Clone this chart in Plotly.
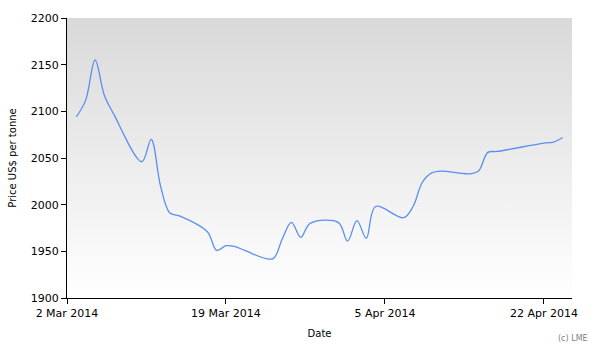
import plotly.graph_objects as go

dates = ["2014-03-03","2014-03-04","2014-03-05","2014-03-06","2014-03-07",
         "2014-03-10","2014-03-11","2014-03-12","2014-03-13","2014-03-14",
         "2014-03-17","2014-03-18","2014-03-19","2014-03-20","2014-03-21",
         "2014-03-24","2014-03-25","2014-03-26","2014-03-27","2014-03-28",
         "2014-03-31","2014-04-01","2014-04-02","2014-04-03","2014-04-04",
         "2014-04-07","2014-04-08","2014-04-09","2014-04-10","2014-04-11",
         "2014-04-14","2014-04-15","2014-04-16","2014-04-17",
         "2014-04-22","2014-04-23","2014-04-24"]
prices = [2094, 2112, 2155, 2117, 2097,
          2046, 2070, 2020, 1991, 1988,
          1971, 1951, 1956, 1955, 1951,
          1942, 1963, 1981, 1965, 1980,
          1981, 1961, 1983, 1964, 1998,
          1986, 1998, 2024, 2034, 2036,
          2033, 2036, 2056, 2057,
          2066, 2067, 2072]

tick_vals = ["2014-03-02", "2014-03-19", "2014-04-05", "2014-04-22"]
tick_text = ["2 Mar 2014", "19 Mar 2014", "5 Apr 2014", "22 Apr 2014"]
x_range = ["2014-03-02", "2014-04-25"]
y_range = [1900, 2200]

fig = go.Figure()
# gradient background panel
fig.add_trace(go.Scatter(
    x=[x_range[0], x_range[1], x_range[1], x_range[0], x_range[0]],
    y=[y_range[0], y_range[0], y_range[1], y_range[1], y_range[0]],
    mode="lines", line=dict(width=0), fill="toself",
    fillgradient=dict(type="vertical", colorscale=[[0, "#ffffff"], [1, "#d9d9d9"]]),
    hoverinfo="skip", showlegend=False))
fig.add_trace(go.Scatter(
    x=dates, y=prices, mode="lines",
    line=dict(color="#5a8ff0", width=1.3, shape="spline", smoothing=1.0),
    showlegend=False))

font = "DejaVu Sans"
fig.update_layout(
    width=598, height=349,
    margin=dict(l=66, r=26, t=17, b=50),
    paper_bgcolor="white", plot_bgcolor="white",
    font=dict(family=font, size=11, color="black"),
    xaxis=dict(range=x_range, tickmode="array", tickvals=tick_vals, ticktext=tick_text,
               showgrid=False, zeroline=False, showline=True, linecolor="black", linewidth=1,
               ticks="outside", ticklen=5, tickcolor="black",
               title=dict(text="Date", font=dict(size=10), standoff=10)),
    yaxis=dict(range=y_range, tickvals=[1900, 1950, 2000, 2050, 2100, 2150, 2200],
               showgrid=False, zeroline=False, showline=True, linecolor="black", linewidth=1,
               ticks="outside", ticklen=5, tickcolor="black",
               title=dict(text="Price US$ per tonne", font=dict(size=10), standoff=12)),
    annotations=[dict(text="(c) LME", xref="paper", yref="paper", x=1.036, y=-0.145,
                      xanchor="right", yanchor="middle", showarrow=False,
                      font=dict(size=8, color="#808080"))],
)
fig.write_html("out.html")
